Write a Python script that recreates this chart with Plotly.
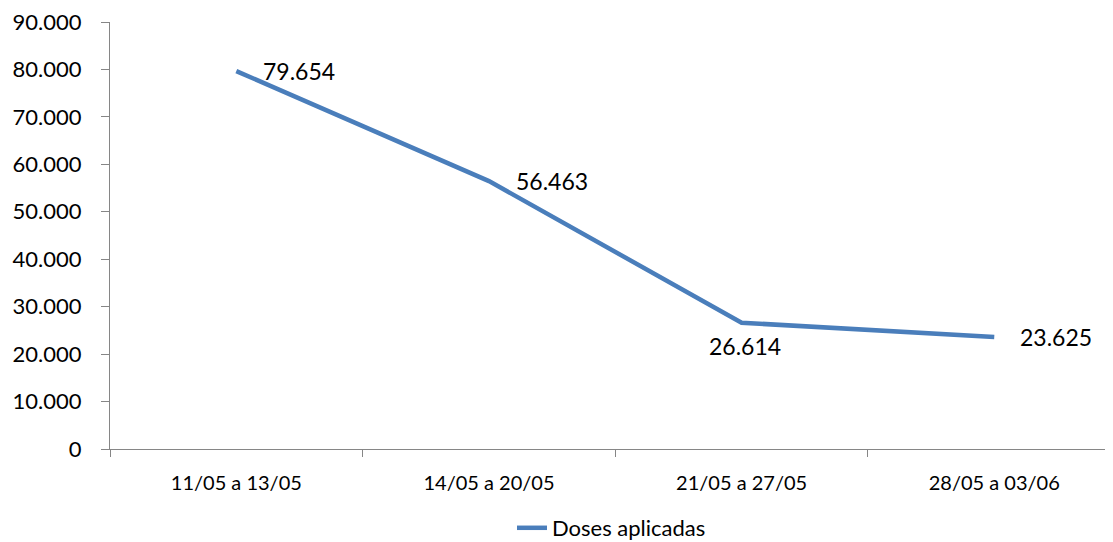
import plotly.graph_objects as go

categories = ["11/05 a 13/05", "14/05 a 20/05", "21/05 a 27/05", "28/05 a 03/06"]
doses = [79654, 56463, 26614, 23625]
series_name = "Doses aplicadas"
y_ticks = [0, 10000, 20000, 30000, 40000, 50000, 60000, 70000, 80000, 90000]

FONT = "Lato"
LINE_COLOR = "#4A7EBB"
AXIS_COLOR = "#868686"

fig = go.Figure()
fig.add_trace(go.Scatter(
    x=categories, y=doses, mode="lines", name=series_name,
    line=dict(color=LINE_COLOR, width=4.5),
    showlegend=True,
))

def fmt(v):
    return f"{v:,}".replace(",", ".")

label_pos = [("left", "middle", 25, 0), ("left", "middle", 25, 0),
             ("center", "middle", 3, -23), ("left", "middle", 24, 0)]
for c, v, (xa, ya, xs, ys) in zip(categories, doses, label_pos):
    fig.add_annotation(x=c, y=v, text=fmt(v), showarrow=False,
                       xanchor=xa, yanchor=ya, xshift=xs, yshift=ys,
                       font=dict(family=FONT, size=23, color="#000000"))

fig.update_layout(
    width=1105, height=534,
    margin=dict(l=102, r=0, t=14, b=93, autoexpand=False),
    paper_bgcolor="white", plot_bgcolor="white",
    separators=",.",
    font=dict(family=FONT, size=22, color="#000000"),
    legend=dict(orientation="h", x=0.5, xanchor="center", y=-0.185, yanchor="middle",
                font=dict(family=FONT, size=22, color="#000000")),
    xaxis=dict(
        type="category", range=[-0.5, 3.47], automargin=False,
        showline=True, linecolor=AXIS_COLOR, linewidth=1,
        ticks="outside", tickson="boundaries", ticklen=7, tickcolor=AXIS_COLOR,
        showgrid=False, zeroline=False, ticklabelstandoff=16,
        tickfont=dict(family=FONT, size=20, color="#000000"),
    ),
    yaxis=dict(
        range=[0, 90000], tickvals=y_ticks, tickformat=",d", automargin=False,
        showline=True, linecolor=AXIS_COLOR, linewidth=1,
        ticks="outside", ticklen=8, tickcolor=AXIS_COLOR,
        showgrid=False, zeroline=False, ticklabelstandoff=15,
        ticklabeloverflow="allow",
        tickfont=dict(family=FONT, size=22, color="#000000"),
    ),
)

fig.write_html("out.html")
